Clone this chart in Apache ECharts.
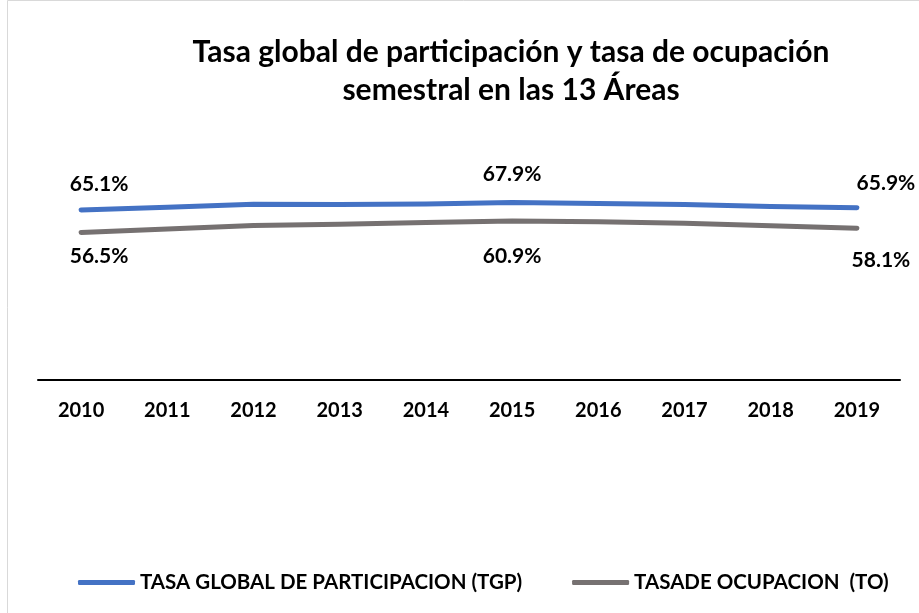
<!DOCTYPE html>
<html>
<head>
<meta charset="utf-8">
<script src="https://cdn.jsdelivr.net/npm/echarts@6/dist/echarts.min.js"></script>
<style>
  html, body { margin: 0; padding: 0; background: #fff; }
  #chart { width: 919px; height: 613px; }
</style>
</head>
<body>
<div id="chart"></div>
<script>
// datos (porcentajes)
const years = ['2010', '2011', '2012', '2013', '2014', '2015', '2016', '2017', '2018', '2019'];
const tgp = [65.1, 66.1, 67.3, 67.2, 67.4, 67.9, 67.6, 67.2, 66.4, 65.9];
const to = [56.5, 57.8, 59.1, 59.6, 60.3, 60.9, 60.6, 60.0, 59.0, 58.1];
const labelIdx = [0, 5, 9];

const fontFam = 'Lato, "Noto Sans", sans-serif';

// solo algunos puntos llevan etiqueta, con desplazamiento manual
const withLabels = (vals, pos, offsets) => vals.map((v, i) => {
    const k = labelIdx.indexOf(i);
    if (k < 0) return { value: v, label: { show: false } };
    return { value: v, label: { show: true, position: pos, offset: offsets[k] } };
});

const chart = echarts.init(document.getElementById('chart'));

const labelStyle = {
    distance: 5,
    formatter: p => p.value.toFixed(1) + '%',
    fontFamily: fontFam, fontWeight: 'bold', fontSize: 21, color: '#000', opacity: 1
};

const option = {
    backgroundColor: '#fff',
    animation: false,
    title: {
        text: 'Tasa global de participación y tasa de ocupación\nsemestral en las 13 Áreas',
        left: 506,
        textAlign: 'center',
        top: 28,
        textStyle: { fontFamily: fontFam, fontWeight: 'bold', fontSize: 30, lineHeight: 38, color: '#000' }
    },
    legend: {
        left: 73,
        top: 567,
        icon: 'roundRect',
        itemWidth: 57,
        itemHeight: 5,
        itemGap: 50,
        textStyle: { fontFamily: fontFam, fontWeight: 'bold', fontSize: 20.5, color: '#000' }
    },
    grid: { left: 38, right: 19, top: 171, bottom: 233 },
    xAxis: {
        type: 'category',
        data: years,
        boundaryGap: true,
        axisLine: { lineStyle: { color: '#000', width: 2 } },
        axisTick: { show: false },
        axisLabel: { margin: 21, fontFamily: fontFam, fontWeight: 'bold', fontSize: 20, color: '#000' }
    },
    yAxis: {
        type: 'value',
        min: 0,
        max: 80,
        show: false,
        splitLine: { show: false }
    },
    series: [
        {
            name: 'TASA GLOBAL DE PARTICIPACION (TGP)',
            type: 'line',
            data: withLabels(tgp, 'top', [[18, -10], [0, -12], [29, -9]]),
            symbol: 'circle',
            symbolSize: 1,
            showAllSymbol: true,
            color: '#4472C4',
            lineStyle: { width: 5, cap: 'round', join: 'round', color: '#4472C4' },
            label: labelStyle
        },
        {
            name: 'TASADE OCUPACION  (TO)',
            type: 'line',
            data: withLabels(to, 'bottom', [[18, 8], [0, 19], [24, 16]]),
            symbol: 'circle',
            symbolSize: 1,
            showAllSymbol: true,
            color: '#767171',
            lineStyle: { width: 5, cap: 'round', join: 'round', color: '#767171' },
            label: labelStyle
        }
    ],
    graphic: [{
        type: 'rect',
        shape: { x: 7.5, y: 0.5, width: 920, height: 620 },
        style: { fill: 'none', stroke: '#d9d9d9', lineWidth: 1 },
        silent: true
    }]
};

chart.setOption(option);
</script>
</body>
</html>
